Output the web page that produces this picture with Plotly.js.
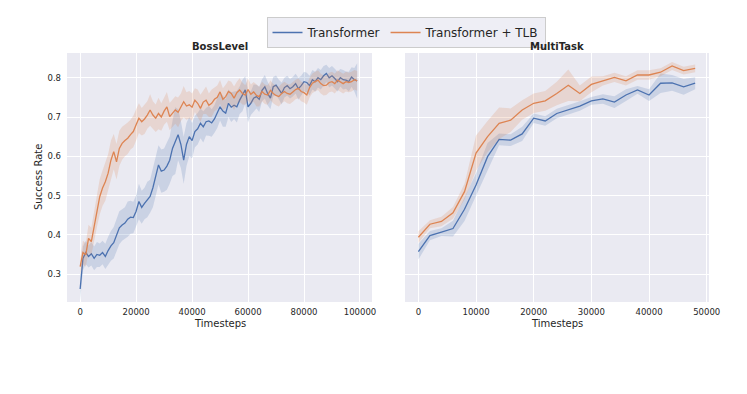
<!DOCTYPE html>
<html>
<head>
<meta charset="utf-8">
<script src="https://cdn.plot.ly/plotly-3.0.1.min.js"></script>
<style>
  html, body { margin: 0; padding: 0; background: #fff; }
  #chart { width: 747px; height: 394px; }
</style>
</head>
<body>
<div id="chart"></div>
<script>
// BossLevel: one value every 1000 timesteps
var bossTransformer = [
  0.262, 0.340, 0.355, 0.345, 0.352, 0.340, 0.350, 0.348, 0.355, 0.345,
  0.360, 0.372, 0.380, 0.400, 0.418, 0.425, 0.430, 0.440, 0.445, 0.444,
  0.460, 0.485, 0.470, 0.480, 0.490, 0.498, 0.520, 0.550, 0.578, 0.562,
  0.565, 0.575, 0.590, 0.620, 0.640, 0.655, 0.630, 0.590, 0.630, 0.650,
  0.640, 0.663, 0.670, 0.684, 0.675, 0.688, 0.690, 0.685, 0.695, 0.710,
  0.726, 0.715, 0.710, 0.735, 0.725, 0.730, 0.726, 0.743, 0.755, 0.769,
  0.726, 0.735, 0.748, 0.752, 0.745, 0.768, 0.777, 0.760, 0.748, 0.777,
  0.781, 0.770, 0.760, 0.775, 0.780, 0.772, 0.777, 0.785, 0.772, 0.780,
  0.790, 0.788, 0.780, 0.795, 0.790, 0.800, 0.795, 0.805, 0.811, 0.800,
  0.805, 0.798, 0.790, 0.800, 0.795, 0.794, 0.790, 0.802, 0.795, 0.792
];
var bossTransformerCI = [
  0.030, 0.030, 0.030, 0.028, 0.030, 0.030, 0.032, 0.030, 0.030, 0.032,
  0.035, 0.038, 0.040, 0.040, 0.042, 0.040, 0.040, 0.045, 0.042, 0.040,
  0.040, 0.045, 0.042, 0.040, 0.045, 0.042, 0.050, 0.055, 0.050, 0.055,
  0.055, 0.060, 0.060, 0.070, 0.085, 0.065, 0.060, 0.060, 0.055, 0.050,
  0.045, 0.040, 0.040, 0.038, 0.040, 0.035, 0.038, 0.035, 0.035, 0.038,
  0.035, 0.040, 0.035, 0.035, 0.038, 0.035, 0.040, 0.035, 0.040, 0.035,
  0.040, 0.030, 0.035, 0.030, 0.032, 0.028, 0.030, 0.030, 0.028, 0.025,
  0.025, 0.025, 0.028, 0.025, 0.025, 0.025, 0.025, 0.025, 0.028, 0.025,
  0.025, 0.025, 0.025, 0.025, 0.025, 0.025, 0.025, 0.025, 0.022, 0.025,
  0.025, 0.025, 0.025, 0.022, 0.025, 0.022, 0.025, 0.025, 0.030, 0.045
];
var bossTLB = [
  0.319, 0.355, 0.349, 0.391, 0.383, 0.421, 0.460, 0.497, 0.519, 0.535,
  0.557, 0.590, 0.612, 0.586, 0.620, 0.633, 0.640, 0.646, 0.655, 0.663,
  0.680, 0.697, 0.688, 0.695, 0.705, 0.718, 0.705, 0.697, 0.709, 0.700,
  0.715, 0.726, 0.701, 0.710, 0.718, 0.712, 0.725, 0.739, 0.728, 0.731,
  0.725, 0.743, 0.735, 0.722, 0.738, 0.743, 0.730, 0.735, 0.745, 0.750,
  0.764, 0.745, 0.752, 0.765, 0.760, 0.748, 0.762, 0.769, 0.760, 0.756,
  0.770, 0.758, 0.764, 0.755, 0.752, 0.765, 0.758, 0.756, 0.768, 0.760,
  0.755, 0.752, 0.760, 0.765, 0.760, 0.758, 0.764, 0.770, 0.773, 0.765,
  0.762, 0.756, 0.775, 0.786, 0.790, 0.794, 0.785, 0.780, 0.781, 0.788,
  0.790, 0.785, 0.794, 0.790, 0.785, 0.790, 0.788, 0.790, 0.795, 0.792
];
var bossTLBCI = [
  0.020, 0.030, 0.030, 0.035, 0.035, 0.040, 0.040, 0.045, 0.045, 0.048,
  0.048, 0.050, 0.045, 0.045, 0.045, 0.042, 0.040, 0.040, 0.038, 0.040,
  0.040, 0.038, 0.035, 0.038, 0.035, 0.040, 0.035, 0.035, 0.040, 0.035,
  0.035, 0.038, 0.035, 0.035, 0.035, 0.038, 0.035, 0.040, 0.035, 0.035,
  0.035, 0.030, 0.035, 0.035, 0.030, 0.035, 0.030, 0.035, 0.030, 0.030,
  0.030, 0.028, 0.030, 0.028, 0.030, 0.030, 0.028, 0.030, 0.028, 0.025,
  0.028, 0.025, 0.025, 0.028, 0.025, 0.025, 0.025, 0.025, 0.025, 0.025,
  0.025, 0.025, 0.025, 0.025, 0.025, 0.025, 0.025, 0.025, 0.025, 0.025,
  0.025, 0.025, 0.025, 0.025, 0.025, 0.025, 0.025, 0.025, 0.025, 0.025,
  0.025, 0.025, 0.025, 0.025, 0.025, 0.025, 0.025, 0.025, 0.025, 0.025
];

// MultiTask: one value every 2000 timesteps
var multiTransformer = [
  0.357, 0.398, 0.407, 0.416, 0.465, 0.527, 0.599, 0.643, 0.641, 0.657,
  0.697, 0.690, 0.709, 0.718, 0.728, 0.741, 0.746, 0.738, 0.756, 0.769,
  0.756, 0.786, 0.787, 0.777, 0.786
];
var multiTransformerCI = [
  0.020, 0.012, 0.010, 0.020, 0.030, 0.030, 0.035, 0.015, 0.015, 0.018,
  0.012, 0.012, 0.012, 0.012, 0.012, 0.010, 0.012, 0.015, 0.015, 0.010,
  0.015, 0.025, 0.020, 0.020, 0.015
];
var multiTLB = [
  0.394, 0.427, 0.434, 0.456, 0.510, 0.608, 0.650, 0.684, 0.692, 0.718,
  0.735, 0.741, 0.760, 0.781, 0.760, 0.783, 0.792, 0.801, 0.792, 0.807,
  0.807, 0.814, 0.830, 0.818, 0.824
];
var multiTLBCI = [
  0.015, 0.010, 0.012, 0.015, 0.020, 0.045, 0.040, 0.040, 0.030, 0.025,
  0.025, 0.025, 0.030, 0.040, 0.020, 0.020, 0.012, 0.012, 0.012, 0.012,
  0.012, 0.010, 0.010, 0.010, 0.010
];

var bossSteps  = bossTransformer.map(function (v, i) { return i * 1000; });
var multiSteps = multiTransformer.map(function (v, i) { return i * 2000; });

var seriesNames  = ["Transformer", "Transformer + TLB"];
var lineColors   = ["#4C72B0", "#DD8452"];
var bandColors   = ["rgba(76,114,176,0.2)", "rgba(221,132,82,0.2)"];

// Band polygon (upper forward, lower backward) plus the mean line
function addSeries(data, xs, ys, ci, k, xa, ya, legend) {
    var bx = [], by = [];
    for (var i = 0; i < xs.length; i++) { bx.push(xs[i]); by.push(ys[i] + ci[i]); }
    for (var i = xs.length - 1; i >= 0; i--) { bx.push(xs[i]); by.push(ys[i] - ci[i]); }
    data.push({x: bx, y: by, xaxis: xa, yaxis: ya, type: 'scatter', mode: 'lines',
               fill: 'toself', fillcolor: bandColors[k], line: {width: 0},
               hoverinfo: 'skip', showlegend: false});
    data.push({x: xs, y: ys, xaxis: xa, yaxis: ya, type: 'scatter', mode: 'lines',
               name: seriesNames[k], line: {color: lineColors[k], width: 1.3},
               showlegend: legend});
}

var data = [];
addSeries(data, bossSteps, bossTransformer, bossTransformerCI, 0, 'x', 'y', true);
addSeries(data, bossSteps, bossTLB, bossTLBCI, 1, 'x', 'y', true);
addSeries(data, multiSteps, multiTransformer, multiTransformerCI, 0, 'x2', 'y2', false);
addSeries(data, multiSteps, multiTLB, multiTLBCI, 1, 'x2', 'y2', false);

var tickFont = {family: 'DejaVu Sans', size: 8.5, color: '#262626'};
var labelFont = {family: 'DejaVu Sans', size: 10, color: '#262626'};
var yTop = 1 - 53 / 394, yBot = 1 - 302 / 394;

function xAxis(domain, range, dtick) {
    return {domain: domain, range: range, dtick: dtick, tick0: 0, tickformat: 'd',
            showgrid: true, gridcolor: '#fff', gridwidth: 1, zeroline: false,
            showline: false, ticks: '', tickfont: tickFont, anchor: 'free',
            position: yBot, ticklabelstandoff: 3};
}
function yAxis(domain, labels) {
    return {domain: domain, range: [0.229, 0.863], dtick: 0.1, tick0: 0,
            showgrid: true, gridcolor: '#fff', gridwidth: 1, zeroline: false,
            showline: false, ticks: '', tickfont: tickFont, showticklabels: labels,
            tickformat: '.1f', ticklabelstandoff: 5};
}

var layout = {
    width: 747, height: 394,
    margin: {l: 0, r: 0, t: 0, b: 0},
    paper_bgcolor: '#fff',
    plot_bgcolor: '#EAEAF2',
    font: {family: 'DejaVu Sans', color: '#262626'},
    xaxis: xAxis([67 / 747, 372 / 747], [-4700, 104300], 20000),
    yaxis: yAxis([yBot, yTop], true),
    xaxis2: xAxis([405 / 747, 709 / 747], [-2320, 50400], 10000),
    yaxis2: yAxis([yBot, yTop], false),
    showlegend: true,
    legend: {orientation: 'h', x: 406 / 747, xanchor: 'center', y: 1 - 17 / 394, yanchor: 'top',
             bgcolor: 'rgba(234,234,242,0.8)', bordercolor: '#cccccc', borderwidth: 1,
             font: {family: 'DejaVu Sans', size: 12, color: '#262626'}},
    annotations: [
        {text: '<b>BossLevel</b>', xref: 'paper', yref: 'paper', x: (67 + 372) / 2 / 747, y: 1 - 46 / 394,
         showarrow: false, font: labelFont, xanchor: 'center', yanchor: 'middle'},
        {text: '<b>MultiTask</b>', xref: 'paper', yref: 'paper', x: (405 + 709) / 2 / 747, y: 1 - 46 / 394,
         showarrow: false, font: labelFont, xanchor: 'center', yanchor: 'middle'},
        {text: 'Timesteps', xref: 'paper', yref: 'paper', x: (67 + 372) / 2 / 747, y: 1 - 323 / 394,
         showarrow: false, font: labelFont, xanchor: 'center', yanchor: 'middle'},
        {text: 'Timesteps', xref: 'paper', yref: 'paper', x: (405 + 709) / 2 / 747, y: 1 - 323 / 394,
         showarrow: false, font: labelFont, xanchor: 'center', yanchor: 'middle'},
        {text: 'Success Rate', xref: 'paper', yref: 'paper', x: 38 / 747, y: 1 - 177 / 394,
         showarrow: false, font: labelFont, textangle: -90, xanchor: 'center', yanchor: 'middle'}
    ]
};

Plotly.newPlot('chart', data, layout, {displayModeBar: false, staticPlot: true});
</script>
</body>
</html>
